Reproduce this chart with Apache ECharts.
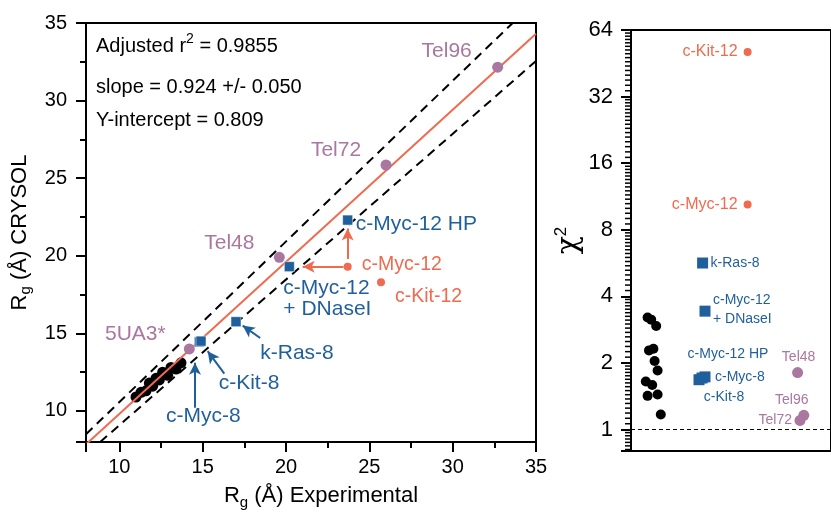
<!DOCTYPE html>
<html>
<head>
<meta charset="utf-8">
<script src="https://cdn.jsdelivr.net/npm/echarts@6/dist/echarts.min.js"></script>
<style>
  html, body { margin: 0; padding: 0; background: #fff; }
  #chart { width: 831px; height: 515px; }
</style>
</head>
<body>
<div id="chart"></div>
<script>
var FONT = '"Liberation Sans", Arial, sans-serif';
var ORANGE = '#ef6a4e';
var BLUE = '#1f5f9c';
var PURPLE = '#a9779f';

// left panel: Rg experimental vs Rg CRYSOL
var blackRgExp = [11.0, 11.3, 11.6, 11.8, 12.0, 12.2, 12.4, 12.6, 12.9, 13.1, 13.4, 13.7];
var blackRgCry = [10.9, 11.2, 11.3, 11.8, 11.6, 12.1, 12.0, 12.5, 12.3, 12.8, 12.7, 13.1];
var telNames = ['5UA3*', 'Tel48', 'Tel72', 'Tel96'];
var telRgExp = [14.2, 19.6, 26.0, 32.7];
var telRgCry = [14.0, 19.9, 25.85, 32.15];
var blueNames = ['c-Myc-8', 'c-Kit-8', 'k-Ras-8', 'c-Myc-12\n+ DNaseI', 'c-Myc-12 HP'];
var blueRgExp = [14.8, 14.9, 17.0, 20.2, 23.7];
var blueRgCry = [14.45, 14.5, 15.75, 19.3, 22.3];
var orangeNames = ['c-Myc-12', 'c-Kit-12'];
var orangeRgExp = [23.7, 25.7];
var orangeRgCry = [19.3, 18.3];
var fitLine = [[8, 7.85], [35, 34.3]];
var upperBand = [[8, 8.5], [33.6, 35]];
var lowerBand = [[8.85, 8], [35, 32.55]];
var orangeArrows = [[[23.45, 19.3], [21.0, 19.3]], [[23.7, 19.8], [23.7, 21.75]]];
var blueArrows = [[[14.54, 10.2], [14.54, 13.1]], [[16.3, 12.4], [15.3, 13.85]], [[18.45, 14.7], [17.4, 15.5]]];
var stats = ['Adjusted r', '0.9855', '0.924 +/- 0.050', '0.809'];

// right panel: chi^2 per sample (x = jitter position)
var chiBlackPos = [0.83, 1.01, 1.26, 0.90, 1.12, 1.18, 1.33, 0.74, 1.06, 0.83, 1.33, 1.49];
var chiBlack = [3.21, 3.14, 2.94, 2.28, 2.32, 2.04, 1.85, 1.65, 1.59, 1.42, 1.44, 1.17];
var chiBlueNames = ['k-Ras-8', 'c-Myc-12\n+ DNaseI', 'c-Kit-8', 'c-Myc-12 HP', 'c-Myc-8'];
var chiBluePos = [3.58, 3.70, 3.40, 3.55, 3.70];
var chiBlue = [5.66, 3.43, 1.68, 1.71, 1.73];
var chiOrangeNames = ['c-Kit-12', 'c-Myc-12'];
var chiOrangePos = [5.83, 5.83];
var chiOrange = [50.9, 10.4];
var chiTelNames = ['Tel48', 'Tel96', 'Tel72'];
var chiTelPos = [8.33, 8.64, 8.45];
var chiTel = [1.81, 1.16, 1.10];
var chiTicks = [1, 2, 4, 8, 16, 32, 64];

// label placement: [dx, dy, align]
var leftLabels = {
  '5UA3*': [-54, -15], 'Tel48': [-50, -14], 'Tel72': [-50, -15], 'Tel96': [-51, -16],
  'c-Myc-8': [4, 74], 'c-Kit-8': [48, 42], 'k-Ras-8': [61, 31],
  'c-Myc-12\n+ DNaseI': [-6, 32, 'left'], 'c-Myc-12 HP': [8, 4, 'left'],
  'c-Myc-12': [14, -2, 'left'], 'c-Kit-12': [14, 14, 'left']
};
var rightLabels = {
  'k-Ras-8': [8, 0, 'left'], 'c-Myc-12\n+ DNaseI': [8, -2, 'left'],
  'c-Kit-8': [25, 17], 'c-Myc-12 HP': [26, -24], 'c-Myc-8': [10, 0, 'left'],
  'c-Kit-12': [-10, 0, 'right'], 'c-Myc-12': [-10, 0, 'right'],
  'Tel48': [1, -15], 'Tel96': [-12, -15], 'Tel72': [-8, 0, 'right']
};

// log axis minor ticks (16 linear steps per octave, like Origin does)
var chiMinor = [];
for (var k = -1; k < 6; k++) {
  for (var j = 1; j < 16; j++) {
    var v = Math.pow(2, k) * (1 + j / 16);
    if (v > 0.8 && v < 64) chiMinor.push(v);
  }
}

function pts(names, xs, ys, place, color, size, lh) {
  return names.map(function (n, i) {
    var p = place[n] || [0, 0];
    return {
      name: n,
      value: [xs[i], ys[i]],
      label: {
        show: true, position: 'inside', offset: [p[0], p[1]], align: p[2] || 'center',
        verticalAlign: 'middle', formatter: '{b}', color: color,
        fontFamily: FONT, fontSize: size, lineHeight: lh || size
      }
    };
  });
}
function plain(xs, ys) {
  return xs.map(function (x, i) { return [x, ys[i]]; });
}
function arrows(list) {
  return list.map(function (a) { return [{ coord: a[0] }, { coord: a[1] }]; });
}

var chart = echarts.init(document.getElementById('chart'));
var axisLine = { lineStyle: { color: '#000', width: 2 } };
var tickLabel = { color: '#000', fontFamily: FONT, fontSize: 20 };

chart.setOption({
  animation: false,
  grid: [
    { left: 86, top: 23, width: 450, height: 425, show: true, borderColor: '#000', borderWidth: 2 },
    { left: 631, top: 30, width: 220, height: 421, show: true, borderColor: '#000', borderWidth: 2 }
  ],
  xAxis: [
    {
      gridIndex: 0, type: 'value', min: 8, max: 35, splitNumber: 5,
      axisLine: axisLine, splitLine: { show: false },
      axisTick: { length: 10, lineStyle: { width: 2, color: '#000' } },
      minorTick: { show: true, splitNumber: 2, length: 6, lineStyle: { width: 2, color: '#000' } },
      axisLabel: Object.assign({ margin: 15, showMinLabel: false }, tickLabel),
      name: '{a|R}{s|g}{a| (Å) Experimental}', nameLocation: 'middle', nameGap: 40,
      nameTextStyle: {
        padding: [0, 0, 0, 20],
        rich: {
          a: { fontFamily: FONT, fontSize: 22, color: '#000', lineHeight: 28 },
          s: { fontFamily: FONT, fontSize: 15, color: '#000', lineHeight: 15, verticalAlign: 'bottom' }
        }
      }
    },
    {
      gridIndex: 1, type: 'value', min: 0, max: 10,
      axisLine: axisLine, axisTick: { show: false }, axisLabel: { show: false }, splitLine: { show: false }
    }
  ],
  yAxis: [
    {
      gridIndex: 0, type: 'value', min: 8, max: 35, splitNumber: 5,
      axisLine: axisLine, splitLine: { show: false },
      axisTick: { length: 10, lineStyle: { width: 2, color: '#000' } },
      minorTick: { show: true, splitNumber: 2, length: 6, lineStyle: { width: 2, color: '#000' } },
      axisLabel: Object.assign({ margin: 19, showMinLabel: false }, tickLabel),
      name: '{a|R}{s|g}{a| (Å) CRYSOL}', nameLocation: 'middle', nameGap: 46, nameRotate: 90,
      nameTextStyle: {
        rich: {
          a: { fontFamily: FONT, fontSize: 22, color: '#000', lineHeight: 28 },
          s: { fontFamily: FONT, fontSize: 15, color: '#000', lineHeight: 15, verticalAlign: 'bottom' }
        }
      }
    },
    {
      gridIndex: 1, type: 'log', logBase: 2, min: 0.8, max: 64,
      axisLine: axisLine, splitLine: { show: false },
      axisTick: { length: 10, lineStyle: { width: 2, color: '#000' } },
      minorTick: { show: false },
      axisLabel: {
        margin: 18, color: '#000', fontFamily: FONT, fontSize: 22,
        formatter: function (v) { return chiTicks.indexOf(Math.round(v * 1000) / 1000) >= 0 ? String(Math.round(v)) : ''; }
      },
      name: '{a|χ}{s|2}', nameLocation: 'middle', nameGap: 40, nameRotate: 90,
      nameTextStyle: {
        rich: {
          a: { fontFamily: '"DejaVu Serif", serif', fontSize: 30, color: '#000', lineHeight: 34 },
          s: { fontFamily: FONT, fontSize: 17, color: '#000', lineHeight: 17, verticalAlign: 'top' }
        }
      }
    }
  ],
  graphic: [
    { type: 'text', x: 96, y: 46, style: { text: '{a|' + stats[0] + '}{s|2}{a| = ' + stats[1] + '}', verticalAlign: 'middle',
      rich: { a: { fontFamily: FONT, fontSize: 20, fill: '#000', lineHeight: 28 },
              s: { fontFamily: FONT, fontSize: 14, fill: '#000', lineHeight: 14, verticalAlign: 'top' } } } },
    { type: 'text', x: 96, y: 87, style: { text: 'slope = ' + stats[2], fontFamily: FONT, fontSize: 20, fill: '#000', verticalAlign: 'middle' } },
    { type: 'text', x: 96, y: 120, style: { text: 'Y-intercept = ' + stats[3], fontFamily: FONT, fontSize: 20, fill: '#000', verticalAlign: 'middle' } }
  ],
  series: [
    { type: 'scatter', xAxisIndex: 0, yAxisIndex: 0, z: 1, symbol: 'circle', symbolSize: 11,
      itemStyle: { color: '#000', opacity: 1 }, data: plain(blackRgExp, blackRgCry) },
    { type: 'line', xAxisIndex: 0, yAxisIndex: 0, z: 2, symbol: 'none', data: upperBand,
      lineStyle: { color: '#000', width: 2, type: [9, 6] } },
    { type: 'line', xAxisIndex: 0, yAxisIndex: 0, z: 2, symbol: 'none', data: lowerBand,
      lineStyle: { color: '#000', width: 2, type: [9, 6] } },
    { type: 'line', xAxisIndex: 0, yAxisIndex: 0, z: 2, symbol: 'none', data: fitLine,
      lineStyle: { color: ORANGE, width: 2 } },
    { type: 'scatter', xAxisIndex: 0, yAxisIndex: 0, z: 3, symbol: 'rect', symbolSize: 10,
      itemStyle: { color: BLUE, opacity: 1, borderColor: '#fff', borderWidth: 0.5 },
      data: pts(blueNames, blueRgExp, blueRgCry, leftLabels, BLUE, 21),
      markLine: { silent: true, symbol: ['none', 'arrow'], symbolSize: [9, 12], label: { show: false },
        lineStyle: { color: BLUE, width: 2, type: 'solid' }, data: arrows(blueArrows) } },
    { type: 'scatter', xAxisIndex: 0, yAxisIndex: 0, z: 3, symbol: 'circle', symbolSize: 11,
      itemStyle: { color: PURPLE, opacity: 1 }, data: pts(telNames, telRgExp, telRgCry, leftLabels, PURPLE, 21) },
    { type: 'scatter', xAxisIndex: 0, yAxisIndex: 0, z: 3, symbol: 'circle', symbolSize: 8,
      itemStyle: { color: ORANGE, opacity: 1 }, data: pts(orangeNames, orangeRgExp, orangeRgCry, leftLabels, ORANGE, 19.5),
      markLine: { silent: true, symbol: ['none', 'arrow'], symbolSize: [9, 12], label: { show: false },
        lineStyle: { color: ORANGE, width: 2, type: 'solid' }, data: arrows(orangeArrows) } },

    // minor ticks of the log axis, drawn outside the grid's left edge
    { type: 'custom', xAxisIndex: 1, yAxisIndex: 1, silent: true, clip: false,
      data: chiMinor.map(function (v) { return [0, v]; }),
      renderItem: function (params, api) {
        var p = api.coord([0, api.value(1)]);
        return { type: 'line', shape: { x1: p[0] - 6, y1: p[1], x2: p[0], y2: p[1] },
          style: { stroke: '#000', lineWidth: 1.5 } };
      } },
    { type: 'scatter', xAxisIndex: 1, yAxisIndex: 1, symbol: 'circle', symbolSize: 10,
      itemStyle: { color: '#000', opacity: 1 }, data: plain(chiBlackPos, chiBlack),
      markLine: { silent: true, symbol: 'none', label: { show: false },
        lineStyle: { color: '#000', width: 1, type: [4, 3] }, data: [{ yAxis: 1 }] } },
    { type: 'scatter', xAxisIndex: 1, yAxisIndex: 1, symbol: 'rect', symbolSize: 11,
      itemStyle: { color: BLUE, opacity: 1 }, data: pts(chiBlueNames, chiBluePos, chiBlue, rightLabels, BLUE, 14, 19) },
    { type: 'scatter', xAxisIndex: 1, yAxisIndex: 1, symbol: 'circle', symbolSize: 8,
      itemStyle: { color: ORANGE, opacity: 1 }, data: pts(chiOrangeNames, chiOrangePos, chiOrange, rightLabels, ORANGE, 16) },
    { type: 'scatter', xAxisIndex: 1, yAxisIndex: 1, symbol: 'circle', symbolSize: 11,
      itemStyle: { color: PURPLE, opacity: 1 }, data: pts(chiTelNames, chiTelPos, chiTel, rightLabels, PURPLE, 14) }
  ]
});
</script>
</body>
</html>
